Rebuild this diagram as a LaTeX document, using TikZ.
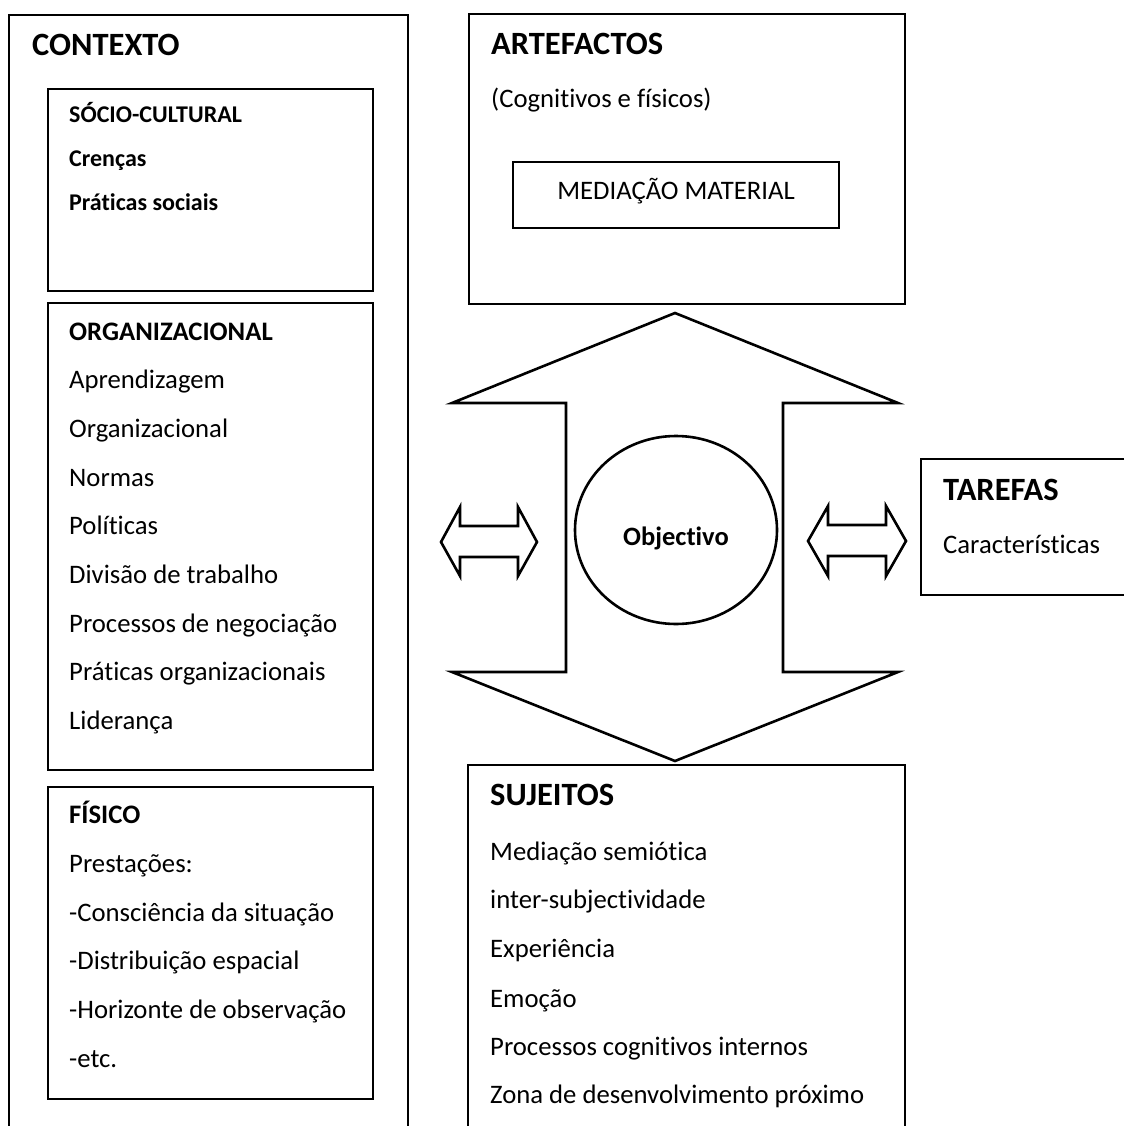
\documentclass[tikz,border=0pt]{standalone}
\usepackage{fontspec}
\setmainfont{Carlito}[Ligatures=NoCommon]
\usetikzlibrary{shapes.geometric}
\tikzset{
  box/.style={draw=black, line width=2.6pt},
  frame/.style={line width=2.6pt, line join=miter},
  txt/.style={anchor=base west, inner sep=0pt, font=\fontsize{26.7}{30}\selectfont},
  sub/.style={anchor=base west, inner sep=0pt, font=\fontsize{24}{28}\selectfont\bfseries},
  subb/.style={anchor=base west, inner sep=0pt, font=\fontsize{26.7}{30}\selectfont\bfseries},
  ttl/.style={anchor=base west, inner sep=0pt, font=\fontsize{32.5}{36}\selectfont\bfseries},
}
\begin{document}
\begin{tikzpicture}[x=1pt,y=-1pt]
\useasboundingbox (0,0) rectangle (1124,1126);
% CONTEXTO outer frame (open at bottom)
\draw[frame] (9,1126) -- (9,15) -- (408,15) -- (408,1126);
\node[ttl] (contexto) at (32,56) {CONTEXTO};
% Socio-cultural
\draw[box] (48,89) rectangle (373,291);
\node[sub] (socio) at (69,123) {SÓCIO-CULTURAL};
\node[sub] (crencas) at (69,167) {Crenças};
\node[sub] (praticas) at (69,211) {Práticas sociais};
% Organizacional
\draw[box] (48,303) rectangle (373,770);
\node[subb] (org) at (69,340) {ORGANIZACIONAL};
\node[txt] (o1) at (69,388.5) {Aprendizagem};
\node[txt] (o2) at (69,437) {Organizacional};
\node[txt] (o3) at (69,486) {Normas};
\node[txt] (o4) at (69,534.5) {Políticas};
\node[txt] (o5) at (69,583) {Divisão de trabalho};
\node[txt] (o6) at (69,632) {Processos de negociação};
\node[txt] (o7) at (69,680.5) {Práticas organizacionais};
\node[txt] (o8) at (69,729) {Liderança};
% Fisico
\draw[box] (48,787) rectangle (373,1099);
\node[subb] (fis) at (69,823) {FÍSICO};
\node[txt] (f1) at (69,872) {Prestações:};
\node[txt] (f2) at (69,921) {-Consciência da situação};
\node[txt] (f3) at (69,969) {-Distribuição espacial};
\node[txt] (f4) at (69,1018) {-Horizonte de observação};
\node[txt] (f5) at (69,1067) {-etc.};
% ARTEFACTOS
\draw[box] (469,14) rectangle (905,304);
\node[ttl] (artef) at (491,55) {ARTEFACTOS};
\node[txt] (cogn) at (491,108) {(Cognitivos e físicos)};
\draw[box] (513,162) rectangle (839,228);
\node[txt, anchor=base] (medmat) at (676,199) {MEDIAÇÃO MATERIAL};
% big double arrow
\draw[frame] (675,313) -- (898,403) -- (783,403) -- (783,672) -- (898,672) -- (675,761)
  -- (452,672) -- (566,672) -- (566,403) -- (452,403) -- cycle;
% Objectivo ellipse
\draw[line width=2.6pt] (676,530) ellipse [x radius=101, y radius=94];
\node[anchor=base, inner sep=0pt, font=\fontsize{26.5}{30}\selectfont\bfseries] (obj) at (676,545) {Objectivo};
% small double arrows
\draw[frame] (441,542) -- (460,507) -- (460,526) -- (518,526) -- (518,507) -- (537,542)
  -- (518,576) -- (518,557) -- (460,557) -- (460,576) -- cycle;
\draw[frame] (808,541) -- (828,506) -- (828,525) -- (886,525) -- (886,506) -- (906,541)
  -- (886,576) -- (886,556) -- (828,556) -- (828,576) -- cycle;
% TAREFAS (open at right)
\draw[frame] (1124,459) -- (921,459) -- (921,595) -- (1124,595);
\node[ttl] (taref) at (943,500) {TAREFAS};
\node[txt] (caract) at (943,553) {Características};
% SUJEITOS (open at bottom)
\draw[frame] (468,1126) -- (468,765) -- (905,765) -- (905,1126);
\node[ttl] (suj) at (490,805) {SUJEITOS};
\node[txt] (s1) at (490,860) {Mediação semiótica};
\node[txt] (s2) at (490,908) {inter-subjectividade};
\node[txt] (s3) at (490,957) {Experiência};
\node[txt] (s4) at (490,1007) {Emoção};
\node[txt] (s5) at (490,1055) {Processos cognitivos internos};
\node[txt] (s6) at (490,1103) {Zona de desenvolvimento próximo};
\end{tikzpicture}
\end{document}
